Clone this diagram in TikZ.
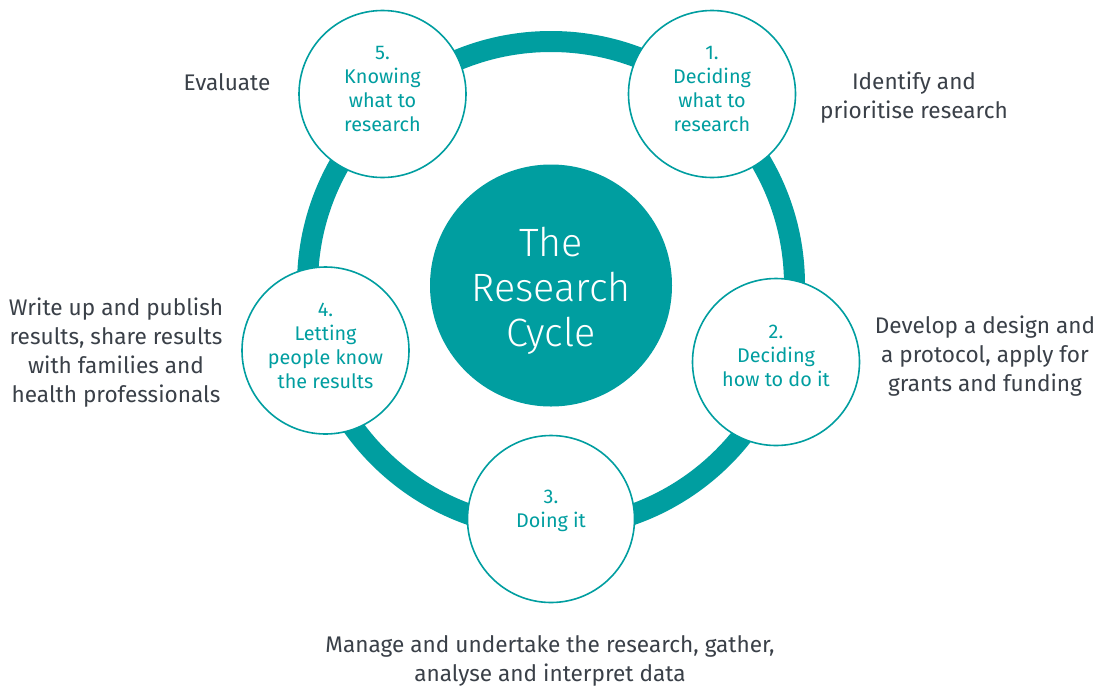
\documentclass[tikz,border=0pt]{standalone}
\usepackage{fontspec}
\setmainfont{Fira Sans}
\newfontfamily\titlefont{Fira Sans Light}
\definecolor{teal}{RGB}{0,158,160}
\definecolor{inkgray}{RGB}{58,64,72}
\begin{document}
\begin{tikzpicture}[x=1pt,y=-1pt,
  stage/.style={circle,draw=teal,line width=1.6pt,fill=white,minimum size=167pt,inner sep=0pt},
  stagetext/.style={text=teal,align=center,font=\fontsize{19.8}{24}\selectfont},
  note/.style={text=inkgray,align=center,font=\fontsize{22.6}{29}\selectfont}]
  \useasboundingbox (0,0) rectangle (1096,689);
  \fill[white] (0,0) rectangle (1096,689);

  % the cycle ring
  \coordinate (hub) at (551,285);
  \draw[teal,line width=21pt] (hub) circle[radius=243.5];

  % centre disc
  \node[circle,fill=teal,minimum size=242pt,inner sep=0pt] (centre) at (551,285.5) {};
  \node[text=white,align=center,font=\titlefont\fontsize{39.5}{45}\selectfont] (title) at (551,290.5) {The\\Research\\Cycle};

  % the five stages
  \node[stage] (s1) at (712,94) {};
  \node[stage] (s2) at (776,362) {};
  \node[stage] (s3) at (551,519) {};
  \node[stage] (s4) at (325.5,350.5) {};
  \node[stage] (s5) at (382.5,94) {};

  \node[stagetext] (t1) at (712,88.5) {1.\\Deciding\\what to\\research};
  \node[stagetext] (t2) at (776,355.5) {2.\\Deciding\\how to do it};
  \node[stagetext] (t3) at (551,510.5) {3.\\Doing it};
  \node[stagetext] (t4) at (325.5,345.5) {4.\\Letting\\people know\\the results};
  \node[stagetext] (t5) at (382.5,88.5) {5.\\Knowing\\what to\\research};

  % descriptions
  \node[note] (n1) at (914,97.5) {Identify and\\prioritise research};
  \node[note] (n2) at (985,356) {Develop a design and\\a protocol, apply for\\grants and funding};
  \node[note] (n3) at (550,661) {Manage and undertake the research, gather,\\analyse and interpret data};
  \node[note] (n4) at (116,353) {Write up and publish\\results, share results\\with families and\\health professionals};
  \node[note] (n5) at (227,82) {Evaluate};
\end{tikzpicture}
\end{document}
